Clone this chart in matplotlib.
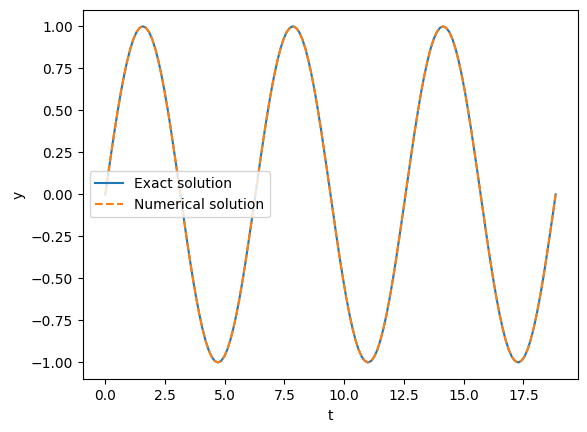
import numpy as np
from matplotlib import pyplot as plt

# curve values, evenly spaced in t from 0 to 18.85
y_exact = [
    0.000, 0.131, 0.259, 0.383, 0.500, 0.609, 0.707, 0.793, 0.866, 0.924, 0.966, 0.991,
    1.000, 0.991, 0.966, 0.924, 0.866, 0.793, 0.707, 0.609, 0.500, 0.383, 0.259, 0.131,
    0.000, -0.131, -0.259, -0.383, -0.500, -0.609, -0.707, -0.793, -0.866, -0.924, -0.966, -0.991,
    -1.000, -0.991, -0.966, -0.924, -0.866, -0.793, -0.707, -0.609, -0.500, -0.383, -0.259, -0.131,
    0.000, 0.131, 0.259, 0.383, 0.500, 0.609, 0.707, 0.793, 0.866, 0.924, 0.966, 0.991,
    1.000, 0.991, 0.966, 0.924, 0.866, 0.793, 0.707, 0.609, 0.500, 0.383, 0.259, 0.131,
    0.000, -0.131, -0.259, -0.383, -0.500, -0.609, -0.707, -0.793, -0.866, -0.924, -0.966, -0.991,
    -1.000, -0.991, -0.966, -0.924, -0.866, -0.793, -0.707, -0.609, -0.500, -0.383, -0.259, -0.131,
    0.000, 0.131, 0.259, 0.383, 0.500, 0.609, 0.707, 0.793, 0.866, 0.924, 0.966, 0.991,
    1.000, 0.991, 0.966, 0.924, 0.866, 0.793, 0.707, 0.609, 0.500, 0.383, 0.259, 0.131,
    0.000, -0.131, -0.259, -0.383, -0.500, -0.609, -0.707, -0.793, -0.866, -0.924, -0.966, -0.991,
    -1.000, -0.991, -0.966, -0.924, -0.866, -0.793, -0.707, -0.609, -0.500, -0.383, -0.259, -0.131,
    0.000]

y_num = [
    0.000, 0.131, 0.259, 0.383, 0.500, 0.609, 0.707, 0.793, 0.866, 0.924, 0.966, 0.991,
    1.000, 0.991, 0.966, 0.924, 0.866, 0.793, 0.707, 0.609, 0.500, 0.383, 0.259, 0.131,
    0.000, -0.131, -0.259, -0.383, -0.500, -0.609, -0.707, -0.793, -0.866, -0.924, -0.966, -0.991,
    -1.000, -0.991, -0.966, -0.924, -0.866, -0.793, -0.707, -0.609, -0.500, -0.383, -0.259, -0.131,
    0.000, 0.131, 0.259, 0.383, 0.500, 0.609, 0.707, 0.793, 0.866, 0.924, 0.966, 0.991,
    1.000, 0.991, 0.966, 0.924, 0.866, 0.793, 0.707, 0.609, 0.500, 0.383, 0.259, 0.131,
    0.000, -0.131, -0.259, -0.383, -0.500, -0.609, -0.707, -0.793, -0.866, -0.924, -0.966, -0.991,
    -1.000, -0.991, -0.966, -0.924, -0.866, -0.793, -0.707, -0.609, -0.500, -0.383, -0.259, -0.131,
    0.000, 0.131, 0.259, 0.383, 0.500, 0.609, 0.707, 0.793, 0.866, 0.924, 0.966, 0.991,
    1.000, 0.991, 0.966, 0.924, 0.866, 0.793, 0.707, 0.609, 0.500, 0.383, 0.259, 0.131,
    0.000, -0.131, -0.259, -0.383, -0.500, -0.609, -0.707, -0.793, -0.866, -0.924, -0.966, -0.991,
    -1.000, -0.991, -0.966, -0.924, -0.866, -0.793, -0.707, -0.609, -0.500, -0.383, -0.259, -0.131,
    0.000]

t_end = 18.85
t = np.linspace(0.0, t_end, len(y_exact))

fig, ax = plt.subplots(figsize=(5.87, 4.32), dpi=100)
fig.subplots_adjust(left=0.141, right=0.985, bottom=0.122, top=0.978)

ax.plot(t, y_exact, label='Exact solution')
ax.plot(t, y_num, '--', label='Numerical solution')

ax.set_xlabel('t')
ax.set_ylabel('y')
ax.legend(loc='center left')

plt.savefig('out.png', dpi=100)
